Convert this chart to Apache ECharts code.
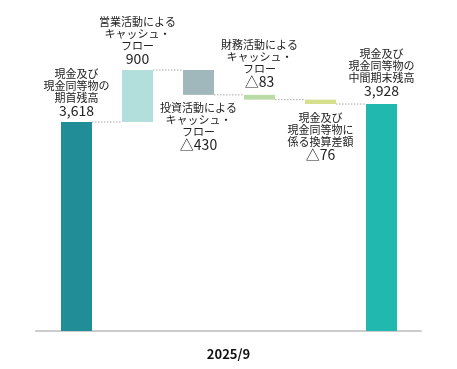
<!DOCTYPE html>
<html><head><meta charset="utf-8">
<script src="https://cdn.jsdelivr.net/npm/echarts@6/dist/echarts.min.js"></script>
<style>html,body{margin:0;padding:0;background:#fff}#c{width:457px;height:369px}</style>
</head><body><div id="c"></div>
<script>
const categories = [
  '現金及び\n現金同等物の\n期首残高',
  '営業活動による\nキャッシュ・\nフロー',
  '投資活動による\nキャッシュ・\nフロー',
  '財務活動による\nキャッシュ・\nフロー',
  '現金及び\n現金同等物に\n係る換算差額',
  '現金及び\n現金同等物の\n中間期末残高'
];
const openingBalance = 3618;
const changes = [900, -430, -83, -76];
const closingBalance = 3928;
const periodLabel = '2025/9';

// styling (not data)
const barColors = ['#218d96', '#b2dfdb', '#a0b8bb', '#b9dba6', '#d4e08b', '#21b8b0'];
const labelPlace = ['top', 'top', 'bottom', 'top', 'bottom', 'top'];
const labelGap = [4, 4, 7, 6, 8, 6];

// build waterfall
const bases = [0], heights = [openingBalance], signs = [1], levels = [];
let running = openingBalance;
levels.push(running);
changes.forEach(c => {
  if (c >= 0) { bases.push(running); heights.push(c); }
  else { bases.push(running + c); heights.push(-c); }
  signs.push(c >= 0 ? 1 : -1);
  running += c;
  levels.push(running);
});
bases.push(0); heights.push(closingBalance); signs.push(1);

const valueText = (i) => signs[i] < 0 ? '△' + heights[i].toLocaleString('en-US') : heights[i].toLocaleString('en-US');
const idx = categories.map((c, i) => String(i));

const FONT = '"Noto Sans CJK JP", "Noto Sans", sans-serif';
const chart = echarts.init(document.getElementById('c'));
chart.setOption({
  animation: false,
  textStyle: { fontFamily: FONT },
  grid: [
    { left: 46, right: 45, top: 0, bottom: 38 },
    { left: 36, right: 36, top: 0, bottom: 38 }
  ],
  xAxis: [
    {
      type: 'category', gridIndex: 0, data: idx,
      axisLine: { show: false }, axisTick: { show: false }, axisLabel: { show: false }
    },
    {
      type: 'value', gridIndex: 1, min: 0, max: 1,
      axisLine: { show: true, onZero: false, lineStyle: { color: '#cccccc', width: 2 } },
      axisTick: { show: false }, axisLabel: { show: false }, splitLine: { show: false },
      name: periodLabel, nameLocation: 'middle', nameGap: 17,
      nameTextStyle: { fontSize: 13, fontWeight: 'bold', color: '#111', fontFamily: FONT }
    }
  ],
  yAxis: [
    { type: 'value', gridIndex: 0, min: 0, max: 5730, show: false },
    { type: 'value', gridIndex: 1, min: 0, max: 1, show: false }
  ],
  series: [
    {
      type: 'bar', stack: 'w', barWidth: 31, silent: true,
      itemStyle: { color: 'transparent' },
      data: bases
    },
    {
      type: 'bar', stack: 'w', barWidth: 31,
      data: heights.map((h, i) => ({
        value: h,
        itemStyle: { color: barColors[i] },
        label: { position: labelPlace[i], distance: labelGap[i] }
      })),
      label: {
        show: true,
        formatter: (p) => {
          const i = p.dataIndex;
          return categories[i].split('\n').map(s => '{t|' + s + '}').join('\n') + '\n{n|' + valueText(i) + '}';
        },
        rich: {
          t: { fontSize: 11, lineHeight: 12, color: '#222', fontFamily: FONT },
          n: { fontSize: 14, lineHeight: 14, color: '#222', fontFamily: FONT }
        }
      }
    },
    {
      type: 'custom',
      silent: true,
      data: levels.map((l, i) => [i, l]),
      renderItem: (params, api) => {
        const i = api.value(0), l = api.value(1);
        const p1 = api.coord([i, l]);
        const p2 = api.coord([i + 1, l]);
        return {
          type: 'line',
          shape: { x1: p1[0] + 15.5, y1: p1[1], x2: p2[0] - 15.5, y2: p2[1] },
          style: { stroke: '#aaaaaa', lineWidth: 1, lineDash: [1.5, 1.5] }
        };
      }
    }
  ]
});
</script>
</body></html>
